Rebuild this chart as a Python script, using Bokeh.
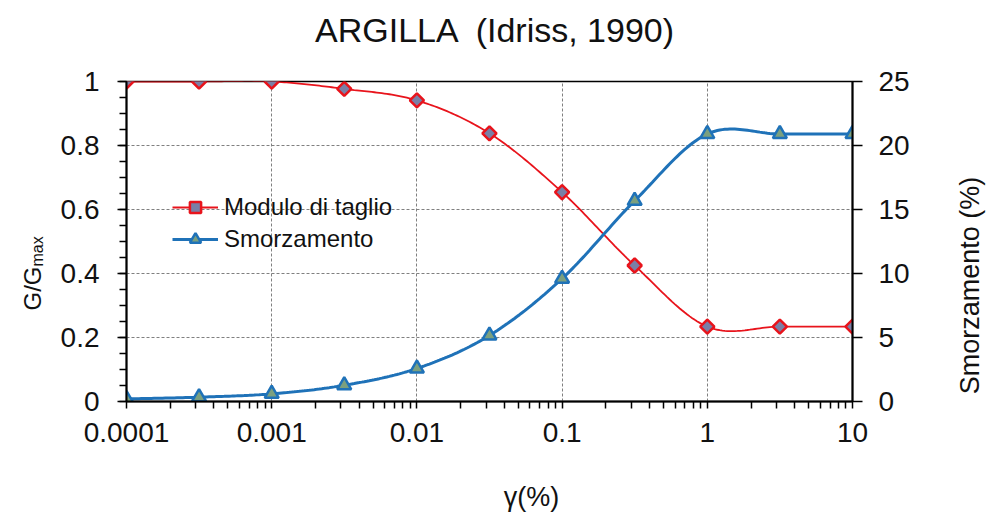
import numpy as np
from bokeh.plotting import figure
from bokeh.models import (Range1d, LinearAxis, FixedTicker, CustomJSTickFormatter,
                          Label, Legend, LegendItem)
from bokeh.embed import file_html
from bokeh.resources import INLINE

# ---- data ----
gamma = [0.0001, 0.000316, 0.001, 0.00316, 0.01, 0.0316, 0.1, 0.316, 1.0, 3.16, 10.0]
g_ratio = [1.0, 1.0, 1.0, 0.977, 0.941, 0.838, 0.654, 0.425, 0.234, 0.234, 0.234]
damping = [0.2, 0.34, 0.6, 1.27, 2.58, 5.16, 9.6, 15.68, 20.9, 20.9, 20.9]
x_ticks = [0.0001, 0.001, 0.01, 0.1, 1.0, 10.0]
y_ticks = [0, 0.2, 0.4, 0.6, 0.8, 1.0]
y_minor = [0.05 * k for k in range(21)]
d_ticks = [0, 5, 10, 15, 20, 25]
x_minor = [m * 10.0 ** e for e in range(-4, 1) for m in range(2, 10)]

series_g = "Modulo di taglio"
series_d = "Smorzamento"
title_text = "ARGILLA \u00a0(Idriss, 1990)"
x_label = "γ(%)"
y2_label = "Smorzamento (%)"
y_label_main = "G/G"
y_label_sub = "max"

RED = "#e8141c"
BLUE = "#1f72b8"
FONT = "Liberation Sans"
TXT = "#111111"


def smooth(xs, ys, n=30):
    """Excel-like smoothed line (cubic Bezier, Catmull-Rom control points) in log-x space."""
    lx = np.log10(np.asarray(xs, float))
    y = np.asarray(ys, float)
    P = np.column_stack([lx, y])
    out = []
    m = len(P)
    for i in range(m - 1):
        p0 = P[max(i - 1, 0)]
        p1 = P[i]
        p2 = P[i + 1]
        p3 = P[min(i + 2, m - 1)]
        c1 = p1 + (p2 - p0) / 6.0
        c2 = p2 - (p3 - p1) / 6.0
        t = np.linspace(0, 1, n)[:, None]
        seg = ((1 - t) ** 3) * p1 + 3 * ((1 - t) ** 2) * t * c1 + 3 * (1 - t) * t ** 2 * c2 + t ** 3 * p2
        out.append(seg if i == 0 else seg[1:])
    pts = np.vstack(out)
    return 10 ** pts[:, 0], pts[:, 1]


W, H = 986, 512
p = figure(width=W, height=H, x_axis_type="log", output_backend="svg",
           toolbar_location=None, x_range=Range1d(1e-4, 10), y_range=Range1d(0, 1),
           min_border_left=126, min_border_right=134, min_border_top=81, min_border_bottom=111)
p.extra_y_ranges = {"d": Range1d(0, 25)}
p.background_fill_color = "white"
p.border_fill_color = "white"
p.outline_line_color = "black"
p.outline_line_width = 1.5

# ---- axes ----
xa = p.xaxis[0]
xa.ticker = FixedTicker(ticks=x_ticks, minor_ticks=x_minor)
xa.formatter = CustomJSTickFormatter(code="return tick.toString();")
ya = p.yaxis[0]
ya.ticker = FixedTicker(ticks=y_ticks, minor_ticks=y_minor)
ya.formatter = CustomJSTickFormatter(code="return String(Math.round(tick*10)/10);")

ra = LinearAxis(y_range_name="d", ticker=FixedTicker(ticks=d_ticks, minor_ticks=[]))
p.add_layout(ra, "right")

for ax in (xa, ya, ra):
    ax.axis_line_color = "black"
    ax.axis_line_width = 2
    ax.major_tick_line_color = "black"
    ax.major_tick_line_width = 1.5
    ax.minor_tick_line_color = "black"
    ax.minor_tick_line_width = 1.5
    ax.major_tick_in = 0
    ax.minor_tick_in = 0
    ax.major_label_text_font = FONT
    ax.major_label_text_font_size = "28px"
    ax.major_label_text_color = TXT
xa.major_tick_out = 7
xa.minor_tick_out = 7
xa.major_label_standoff = 14
ya.major_tick_out = 9
ya.minor_tick_out = 7
ya.major_label_standoff = 18
ra.major_tick_out = 10
ra.minor_tick_out = 0
ra.major_label_standoff = 16

for g in (p.xgrid[0], p.ygrid[0]):
    g.grid_line_color = "#808080"
    g.grid_line_dash = "3 2"
    g.grid_line_width = 1

# ---- series ----
sx, sy = smooth(gamma, g_ratio)
lg = p.line(sx, sy, line_color=RED, line_width=1.8)
mg = p.scatter(gamma, g_ratio, marker="square", angle=np.pi / 4, size=10,
               fill_color="#7a7fa6", line_color=RED, line_width=2.5)

dx, dy = smooth(gamma, damping)
ld = p.line(dx, dy, line_color=BLUE, line_width=3, y_range_name="d")
md = p.scatter(gamma, damping, marker="triangle", size=14, y_range_name="d",
               fill_color="#7ba07f", line_color=BLUE, line_width=2.5)

legend = Legend(items=[LegendItem(label=series_g, renderers=[lg, mg]),
                       LegendItem(label=series_d, renderers=[ld, md])],
                location=(46, 148), padding=0, margin=0, spacing=4,
                glyph_width=46, glyph_height=28, label_height=28, label_standoff=6,
                label_text_font=FONT, label_text_font_size="24px",
                label_text_color=TXT,
                border_line_color=None, background_fill_alpha=0)
p.add_layout(legend)


# ---- titles / axis labels: placed in side panels, canvas coordinates ----
def L(text, px, py, size, side, angle=0.0, align="center", baseline="middle"):
    p.add_layout(Label(x=px, y=py, x_units="canvas", y_units="canvas",
                       text=text, angle=angle, text_align=align, text_baseline=baseline,
                       text_font=FONT, text_font_size=size, text_color=TXT), side)


L(title_text, 495, 29, "34px", "above")
L(x_label, 531, 496, "27px", "below")
L(y2_label, 969, 285, "27px", "right", angle=np.pi / 2)
L(y_label_main, 32, 310, "24px", "left", angle=np.pi / 2, align="left", baseline="alphabetic")
L(y_label_sub, 37, 266, "16px", "left", angle=np.pi / 2, align="left", baseline="alphabetic")

open("out.html", "w").write(file_html(p, INLINE))
